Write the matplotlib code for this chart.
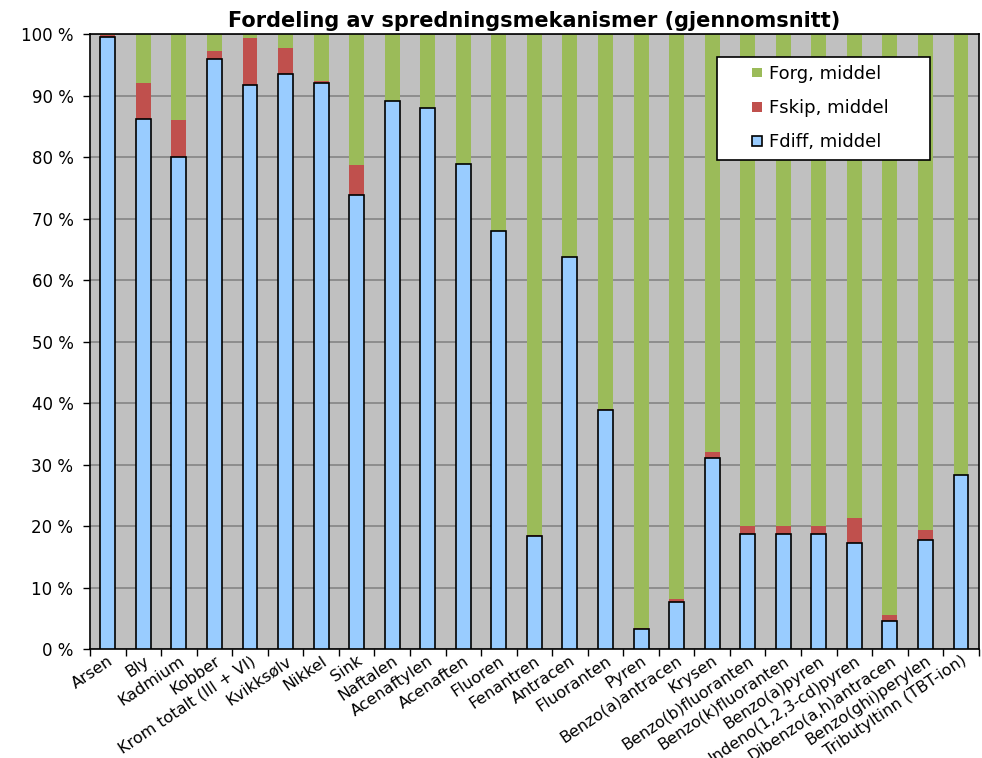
import matplotlib
matplotlib.use("Agg")
import matplotlib.pyplot as plt
from matplotlib.patches import Rectangle
from matplotlib.legend_handler import HandlerPatch
import numpy as np

plt.rcParams['font.family'] = ['DejaVu Sans']

categories = ["Arsen", "Bly", "Kadmium", "Kobber", "Krom totalt (III + VI)",
              "Kvikksølv", "Nikkel", "Sink", "Naftalen", "Acenaftylen",
              "Acenaften", "Fluoren", "Fenantren", "Antracen", "Fluoranten",
              "Pyren", "Benzo(a)antracen", "Krysen", "Benzo(b)fluoranten",
              "Benzo(k)fluoranten", "Benzo(a)pyren", "Indeno(1,2,3-cd)pyren",
              "Dibenzo(a,h)antracen", "Benzo(ghi)perylen", "Tributyltinn (TBT-ion)"]
fdiff = [99.5, 86.2, 80.0, 95.9, 91.7, 93.5, 92.0, 73.9, 89.1, 87.9,
         78.8, 68.0, 18.3, 63.7, 38.8, 3.3, 7.7, 31.1, 18.7, 18.7,
         18.7, 17.3, 4.6, 17.7, 28.3]
fskip = [0.3, 5.9, 6.0, 1.4, 7.6, 4.3, 0.4, 4.8, 0.0, 0.0,
         0.0, 0.0, 0.2, 0.0, 0.3, 0.1, 0.4, 0.9, 1.3, 1.3,
         1.3, 4.0, 0.9, 1.7, 0.0]
forg = [100 - d - s for d, s in zip(fdiff, fskip)]

x = np.arange(len(categories))
w = 0.42

fig = plt.figure(figsize=(9.82, 7.58), dpi=100)
ax = fig.add_axes([0.0917, 0.1438, 0.905, 0.8113])
ax.set_facecolor('#C0C0C0')

b1 = ax.bar(x, fdiff, w, color='#99CCFF', edgecolor='black', linewidth=1.2,
            label='Fdiff, middel', zorder=3)
b2 = ax.bar(x, fskip, w, bottom=fdiff, color='#C0504D', label='Fskip, middel', zorder=2)
b3 = ax.bar(x, forg, w, bottom=np.array(fdiff) + np.array(fskip), color='#9BBB59',
            label='Forg, middel', zorder=2)

ax.set_xlim(-0.5, len(categories) - 0.5)
ax.set_ylim(0, 100)
ax.set_yticks(range(0, 101, 10))
ax.set_yticklabels([f"{v} %" for v in range(0, 101, 10)], fontsize=12)
ax.yaxis.grid(True, color='#858585', linewidth=1.2, zorder=1)
ax.set_axisbelow(True)

ax.set_xticks(x)
ax.set_xticklabels(categories, rotation=34, ha='right', rotation_mode='anchor', fontsize=11.5)
ax.tick_params(axis='x', length=0, pad=3)
ax.set_xticks(np.arange(-0.5, len(categories), 1), minor=True)
ax.tick_params(axis='x', which='minor', length=5, direction='out', width=1)
ax.tick_params(axis='y', length=5, direction='out', width=1, pad=7)

for s in ax.spines.values():
    s.set_linewidth(1.2)
    s.set_color('black')

ax.set_title("Fordeling av spredningsmekanismer (gjennomsnitt)", fontsize=15,
             fontweight='bold', pad=5)


# small square at the right end of the handle box
def square(legend, orig_handle, xdescent, ydescent, width, height, fontsize):
    sz = 7
    return Rectangle((width - sz - xdescent, (height - sz) / 2 - ydescent), sz, sz)


leg = ax.legend([b3[0], b2[0], b1[0]], ['Forg, middel', 'Fskip, middel', 'Fdiff, middel'],
                loc='upper left',
                bbox_to_anchor=(0.705, 0.797, 0.2396, 0.166), mode='expand',
                fontsize=13, frameon=True, fancybox=False, framealpha=1,
                edgecolor='black', labelspacing=0.9, handlelength=2.05,
                handleheight=0.7, handletextpad=0.4, borderpad=0.45,
                borderaxespad=0,
                handler_map={Rectangle: HandlerPatch(patch_func=square)})
leg.get_frame().set_linewidth(1.2)

fig.savefig("out.png", dpi=100)
